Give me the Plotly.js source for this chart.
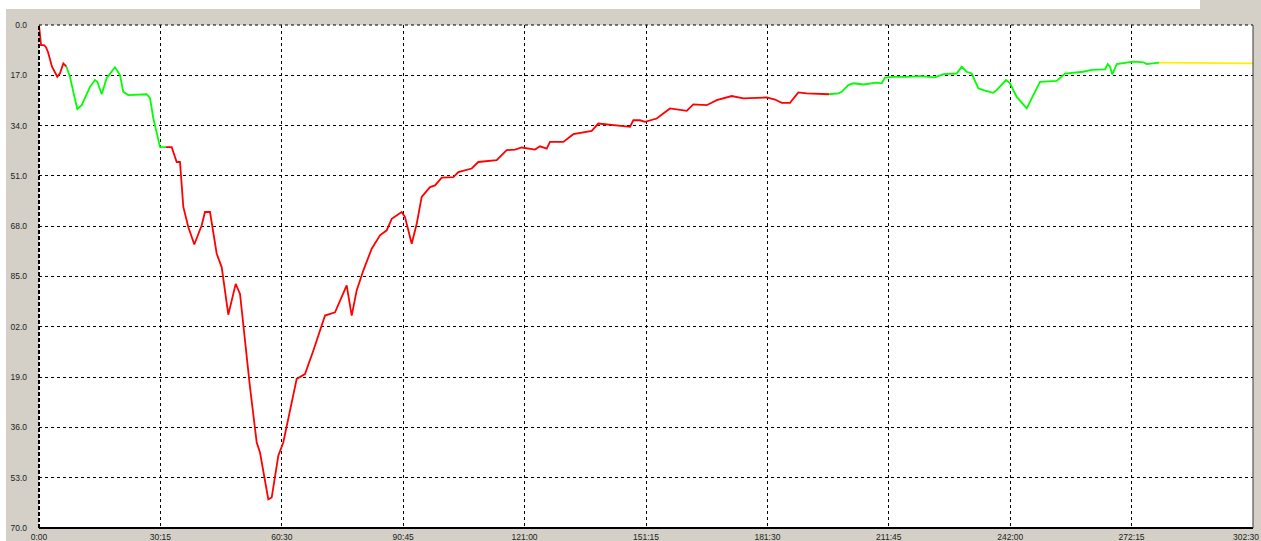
<!DOCTYPE html>
<html>
<head>
<meta charset="utf-8">
<script src="https://cdn.plot.ly/plotly-3.0.1.min.js"></script>
<style>
  html, body { margin: 0; padding: 0; background: #ffffff; width: 1261px; height: 541px; overflow: hidden; }
  #chart { position: absolute; left: 0; top: 0; width: 1261px; height: 541px; }
  .mask { position: absolute; background: #ffffff; }
</style>
</head>
<body>
<div id="chart"></div>
<div class="mask" style="left:0;top:0;width:1200px;height:9px;"></div>
<div class="mask" style="left:0;top:0;width:6px;height:541px;"></div>
<script>
// ---- data (time in minutes, value on reversed axis) ----
var tRed1 = [0, 0.5, 1.25, 1.74, 2.24, 2.99, 3.24, 4.56, 5.23, 6.06, 6.85];
var vRed1 = [0, 6.8, 6.8, 7.5, 9.1, 12.5, 14.1, 17.5, 16.3, 13.0, 14.1];

var tGreen1 = [6.85, 7.72, 8.55, 9.54, 10.64, 12.71, 13.95, 14.53, 15.62, 16.87, 18.94, 20.18, 21.0, 22.25, 26.84, 27.66, 28.48, 30.15, 31.65];
var vGreen1 = [14.1, 17.5, 22.6, 28.4, 27.1, 20.9, 18.6, 19.2, 23.4, 17.9, 14.3, 16.9, 22.6, 23.7, 23.4, 24.7, 31.5, 41.2, 41.3];

var tRed2 = [31.65, 33.07, 34.31, 35.13, 35.96, 37.2, 38.7, 40.54, 41.36, 42.61, 44.28, 45.53, 47.17, 49.01, 50.09,
  52.58, 54.25, 55.07, 57.14, 57.98, 59.63, 60.87, 64.21, 66.28, 68.35, 71.27, 73.76, 76.67, 77.92, 79.16,
  80.81, 82.9, 84.97, 86.64, 87.89, 90.38, 91.2, 92.87, 94.12, 95.36, 97.43, 98.68, 100.34, 103.24, 104.48,
  107.82, 109.46, 114.05, 116.54, 118.61, 120.28, 123.59, 124.84, 126.51, 127.33, 130.65, 133.14, 137.72, 139.37, 143.11,
  147.27, 148.09, 149.76, 151.0, 153.92, 155.56, 157.23, 161.39, 163.04, 166.38, 168.87, 172.61, 175.5, 181.33, 183.4,
  185.07, 187.14, 189.2, 191.3, 196.85];
var vRed2 = [41.3, 41.3, 46.3, 46.3, 61.5, 68.3, 74.2, 67.7, 63.2, 63.2, 77.3, 81.9, 97.9, 87.5, 90.9,
  122.5, 141.1, 144.5, 160.3, 159.7, 145.6, 141.1, 119.6, 118.0, 110.1, 98.2, 97.1, 88.0, 98.2, 89.7,
  83.0, 75.6, 71.1, 69.4, 65.5, 63.2, 64.9, 73.9, 67.2, 58.1, 54.8, 54.2, 51.6, 51.4, 49.7,
  48.5, 46.3, 45.7, 42.3, 42.1, 41.4, 42.1, 41.0, 41.8, 39.5, 39.5, 36.9, 35.8, 33.3, 33.9,
  34.4, 32.2, 32.2, 32.7, 31.6, 29.9, 28.2, 29.0, 26.8, 27.1, 25.4, 24.0, 24.8, 24.5, 25.2,
  26.3, 26.3, 22.8, 23.1, 23.4];

var tGreen2 = [196.85, 199.17, 200.02, 201.66, 202.91, 205.4, 208.74, 209.98, 210.8, 212.87, 216.21, 219.52, 223.26, 225.33, 228.67,
  229.91, 231.16, 232.41, 234.05, 235.72, 237.79, 238.63, 240.95, 241.95, 243.62, 246.11, 249.43, 253.59, 255.66, 260.22,
  262.31, 265.63, 266.3, 266.87, 267.45, 268.55, 272.68, 275.18, 276.02, 278.09, 279.08];
var vGreen2 = [23.4, 23.1, 22.6, 20.3, 19.7, 20.1, 19.5, 19.7, 17.8, 17.5, 17.5, 17.3, 17.7, 16.6, 16.4,
  14.1, 15.8, 16.4, 21.4, 22.2, 22.9, 22.0, 18.6, 19.7, 24.3, 28.2, 19.2, 18.9, 16.4, 15.8,
  15.2, 15.0, 13.2, 14.1, 16.7, 13.2, 12.4, 12.6, 13.2, 13.0, 12.7];

var tYellow = [279.08, 302.5];
var vYellow = [12.7, 13.0];

var xTickVals = [0, 30.25, 60.5, 90.75, 121, 151.25, 181.5, 211.75, 242, 272.25];
var xTickText = ["0:00", "30:15", "60:30", "90:45", "121:00", "151:15", "181:30", "211:45", "242:00", "272:15"];
var xEndVal = 302.5;
var xEndText = "302:30";
var yTickVals = [0, 17, 34, 51, 68, 85, 102, 119, 136, 153, 170];
var yTickText = ["0.0", "17.0", "34.0", "51.0", "68.0", "85.0", "02.0", "19.0", "36.0", "53.0", "70.0"];

function seg(t, v, color) {
  return { x: t, y: v, type: 'scatter', mode: 'lines', line: { color: color, width: 1.8 }, hoverinfo: 'skip', showlegend: false };
}

var traces = [
  seg(tRed1, vRed1, '#ff0000'),
  seg(tGreen1, vGreen1, '#00ff00'),
  seg(tRed2, vRed2, '#ff0000'),
  seg(tGreen2, vGreen2, '#00ff00'),
  seg(tYellow, vYellow, '#ffef00')
];

var tickFont = { family: 'Liberation Sans, Arial, sans-serif', size: 8.5, color: '#222222' };

var layout = {
  width: 1261, height: 541,
  margin: { l: 39, r: 8, t: 25, b: 13, pad: 0 },
  paper_bgcolor: '#d4d0c8',
  plot_bgcolor: '#ffffff',
  showlegend: false,
  xaxis: {
    range: [0, xEndVal], fixedrange: true,
    tickmode: 'array', tickvals: xTickVals, ticktext: xTickText,
    showgrid: true, gridcolor: '#000000', gridwidth: 1, griddash: '3px,3px',
    zeroline: false, showline: false, ticks: '',
    tickfont: tickFont, ticklabelstandoff: 2
  },
  yaxis: {
    range: [170, 0], fixedrange: true,
    tickmode: 'array', tickvals: yTickVals, ticktext: yTickText,
    showgrid: true, gridcolor: '#000000', gridwidth: 1, griddash: '3px,3px',
    zeroline: false, showline: false, ticks: '',
    tickfont: tickFont, ticklabelstandoff: 11
  },
  annotations: [
    { x: xEndVal, xref: 'x', y: 0, yref: 'paper', text: xEndText, showarrow: false,
      xanchor: 'right', yanchor: 'top', xshift: 7, yshift: -3, font: tickFont, borderpad: 0 }
  ],
  shapes: [
    { type: 'line', xref: 'paper', yref: 'paper', x0: 0, x1: 1, y0: 1, y1: 1, line: { color: '#000000', width: 1, dash: '3px,3px' } },
    { type: 'line', xref: 'paper', yref: 'paper', x0: 0, x1: 0, y0: 0, y1: 1, line: { color: '#000000', width: 2, dash: '4px,2px' } },
    { type: 'line', xref: 'paper', yref: 'paper', x0: 0, x1: 1, y0: 0, y1: 0, line: { color: '#000000', width: 2 } },
    { type: 'line', xref: 'paper', yref: 'paper', x0: 1, x1: 1, y0: 0, y1: 1, line: { color: '#3a3a3a', width: 1 } }
  ]
};

Plotly.newPlot('chart', traces, layout, { staticPlot: true, displayModeBar: false });
</script>
</body>
</html>
